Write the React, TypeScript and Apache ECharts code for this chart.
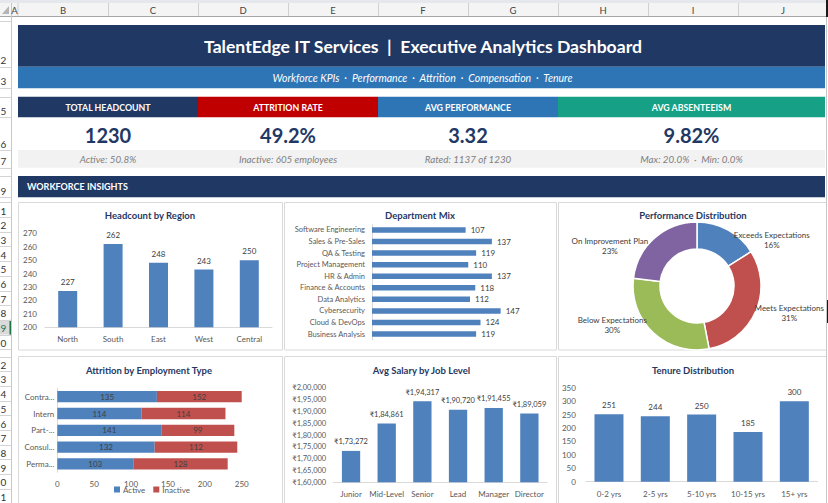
import React, { useEffect, useRef } from 'react';
import * as echarts from 'echarts';

const FONT = "Lato, 'Noto Sans', 'DejaVu Sans', sans-serif";
const NAVY = '#1F3864';
const BAR_BLUE = '#4F81BD';
const BAR_RED = '#C0504D';
const LABEL_GREY = '#404040';
const AXIS_GREY = '#595959';

// Header texts
const dashboardTitle = 'TalentEdge IT Services  |  Executive Analytics Dashboard';
const dashboardSubtitle = 'Workforce KPIs  ·  Performance  ·  Attrition  ·  Compensation  ·  Tenure';
const sectionTitle = 'WORKFORCE INSIGHTS';

// KPI cards
const kpiTitles = ['TOTAL HEADCOUNT', 'ATTRITION RATE', 'AVG PERFORMANCE', 'AVG ABSENTEEISM'];
const kpiValues = ['1230', '49.2%', '3.32', '9.82%'];
const kpiNotes = ['Active: 50.8%', 'Inactive: 605 employees', 'Rated: 1137 of 1230', 'Max: 20.0%  ·  Min: 0.0%'];
const kpiColors = ['#1F3864', '#C00000', '#2E75B6', '#16A085'];

// Headcount by Region
const regions = ['North', 'South', 'East', 'West', 'Central'];
const regionHeadcount = [227, 262, 248, 243, 250];

// Department Mix
const departments = [
  'Software Engineering', 'Sales & Pre-Sales', 'QA & Testing', 'Project Management', 'HR & Admin',
  'Finance & Accounts', 'Data Analytics', 'Cybersecurity', 'Cloud & DevOps', 'Business Analysis',
];
const departmentHeadcount = [107, 137, 119, 110, 137, 118, 112, 147, 124, 119];

// Performance Distribution
const ratingNames = ['Exceeds Expectations', 'Meets Expectations', 'Below Expectations', 'On Improvement Plan'];
const ratingCounts = [182, 352, 341, 262];
const ratingColors = ['#4F81BD', '#C0504D', '#9BBB59', '#8064A2'];

// Attrition by Employment Type
const employmentTypes = ['Contra...', 'Intern', 'Part-...', 'Consul...', 'Perma...'];
const activeByType = [135, 114, 141, 132, 103];
const inactiveByType = [152, 114, 99, 112, 128];

// Avg Salary by Job Level
const jobLevels = ['Junior', 'Mid-Level', 'Senior', 'Lead', 'Manager', 'Director'];
const avgSalary = [173272, 184861, 194317, 190720, 191455, 189059];

// Tenure Distribution
const tenureBands = ['0-2 yrs', '2-5 yrs', '5-10 yrs', '10-15 yrs', '15+ yrs'];
const tenureCounts = [251, 244, 250, 185, 300];

// Spreadsheet chrome
const columnLetters = ['B', 'C', 'D', 'E', 'F', 'G', 'H', 'I', 'J'];

function inr(v: number): string {
  const s = Math.round(v).toString();
  if (s.length <= 3) return '₹' + s;
  const last3 = s.slice(-3);
  let rest = s.slice(0, -3);
  const parts: string[] = [];
  while (rest.length > 2) {
    parts.unshift(rest.slice(-2));
    rest = rest.slice(0, -2);
  }
  if (rest) parts.unshift(rest);
  return '₹' + parts.join(',') + ',' + last3;
}

const PIE_CX = 697;
const PIE_CY = 286;
const PIE_PANEL_RIGHT = 824;

function buildGraphics() {
  const g: any[] = [];
  const rect = (x: number, y: number, w: number, h: number, fill: string, stroke?: string) =>
    g.push({
      type: 'rect', silent: true, z: 0,
      shape: { x, y, width: w, height: h },
      style: { fill, stroke: stroke || null, lineWidth: stroke ? 1 : 0 },
    });
  const line = (x1: number, y1: number, x2: number, y2: number, stroke: string, w = 1) =>
    g.push({ type: 'line', silent: true, z: 1, shape: { x1, y1, x2, y2 }, style: { stroke, lineWidth: w } });
  const text = (x: number, y: number, t: string, o: any = {}) =>
    g.push({
      type: 'text', silent: true, z: 2, x, y,
      style: {
        text: t,
        fill: o.fill || '#fff',
        fontSize: o.size || 10,
        fontWeight: o.weight || 'normal',
        fontStyle: o.style || 'normal',
        fontFamily: o.family || FONT,
        align: o.align || 'center',
        textAlign: o.align || 'center',
        verticalAlign: 'middle',
        textVerticalAlign: 'middle',
      },
    });

  // column header strip
  rect(0, 0, 828, 3, '#E4E7EB');
  rect(0, 3, 826, 13.5, '#F4F4F4');
  line(0, 16.5, 826, 16.5, '#A6A6A6');
  line(11.5, 3, 11.5, 503, '#C8C8C8');
  line(18, 3, 18, 16, '#D0D0D0');
  g.push({
    type: 'polygon', silent: true, z: 1,
    shape: { points: [[9, 6], [9, 14], [2, 14]] },
    style: { fill: '#B5B5B5' },
  });
  text(14.5, 10, 'A', { fill: '#444', size: 9.5 });
  columnLetters.forEach((c, i) => {
    const left = 18 + i * 90;
    text(left + 45, 10, c, { fill: '#444', size: 9.5 });
    line(left + 90.5, 3, left + 90.5, 16, '#D0D0D0');
  });
  rect(826, 0, 2, 17, '#1A1A1A');
  line(826.5, 17, 826.5, 503, '#C8C8C8');
  rect(826, 300, 2, 23, '#1A1A1A');

  // row header (the narrow header only shows each row number's last digit)
  const rows: { n: number; top: number; bottom: number }[] = [
    { n: 1, top: 16.5, bottom: 20.5 },
    { n: 2, top: 20.5, bottom: 66.7 },
    { n: 3, top: 66.7, bottom: 87.8 },
    { n: 4, top: 87.8, bottom: 96.7 },
    { n: 5, top: 96.7, bottom: 117.3 },
    { n: 6, top: 117.3, bottom: 150 },
    { n: 7, top: 150, bottom: 167.7 },
    { n: 8, top: 167.7, bottom: 175.8 },
    { n: 9, top: 175.8, bottom: 197.2 },
    { n: 10, top: 197.2, bottom: 202.3 },
  ];
  for (let k = 11; k <= 20; k++) rows.push({ n: k, top: 202.3 + (k - 11) * 14.7, bottom: 202.3 + (k - 10) * 14.7 });
  rows.push({ n: 21, top: 349.3, bottom: 356.5 });
  for (let k = 22; k <= 31; k++) rows.push({ n: k, top: 356.5 + (k - 22) * 14.7, bottom: 356.5 + (k - 21) * 14.7 });
  rows.forEach((r) => {
    const h = r.bottom - r.top;
    const active = r.n === 19;
    if (active) {
      rect(0, r.top, 11, h, '#DADADA');
      rect(9.5, r.top, 2, h, '#217346');
    }
    if (h > 10) {
      text(0.5, r.bottom - 6.5, String(r.n % 10), { fill: active ? '#217346' : '#333', size: 10, align: 'left' });
    }
    line(0, Math.round(r.bottom) + 0.5, 11, Math.round(r.bottom) + 0.5, '#D4D4D4');
  });

  // title bars
  rect(18, 25, 807, 41.7, NAVY);
  text(423, 46.5, dashboardTitle, { size: 17.6, weight: 'bold' });
  rect(18, 66.7, 807, 21.6, '#2E75B6');
  text(422.5, 77.7, dashboardSubtitle, { size: 10.5, style: 'italic' });

  // KPI cards
  const kpiEdges = [18, 198, 378, 558, 825];
  kpiTitles.forEach((t, i) => {
    const x0 = kpiEdges[i];
    const w = kpiEdges[i + 1] - x0;
    const cx = x0 + w / 2;
    rect(x0, 96.7, w, 20.6, kpiColors[i]);
    text(cx, 107.2, t, { size: 8.8, weight: 'bold' });
    text(cx, 134.5, kpiValues[i], { size: 20, weight: 'bold', fill: NAVY });
    rect(x0, 150, w, 17.7, '#F2F2F2');
    text(cx, 158.8, kpiNotes[i], { size: 9.8, style: 'italic', fill: '#808080' });
  });

  // section heading
  rect(18, 176, 807, 21.2, NAVY);
  text(27, 186.8, sectionTitle, { size: 9, weight: 'bold', align: 'left' });

  // chart panels
  const panelX = [[18.5, 264], [284.5, 272], [558.5, 268]];
  panelX.forEach(([x, w]) => {
    rect(x, 202.5, w, 147.5, '#FFFFFF', '#D9D9D9');
    rect(x, 356.5, w, 160, '#FFFFFF', '#D9D9D9');
  });

  // chart titles
  const titleStyle = { size: 9.5, weight: 'bold', fill: NAVY };
  text(150, 215.7, 'Headcount by Region', titleStyle);
  text(420, 215.7, 'Department Mix', titleStyle);
  text(693, 215.7, 'Performance Distribution', titleStyle);
  text(149, 370.7, 'Attrition by Employment Type', titleStyle);
  text(421.5, 370.7, 'Avg Salary by Job Level', titleStyle);
  text(693, 370.7, 'Tenure Distribution', titleStyle);

  return g;
}

const axisText = { color: AXIS_GREY, fontSize: 8, fontFamily: FONT };
const valueLabel = { color: LABEL_GREY, fontSize: 8, fontFamily: FONT };
const baseLine = { show: true, lineStyle: { color: '#D9D9D9', width: 1 } };

function buildOption(): any {
  return {
    animation: false,
    backgroundColor: '#FFFFFF',
    textStyle: { fontFamily: FONT },
    graphic: { elements: buildGraphics() },
    legend: {
      data: ['Active', 'Inactive'],
      left: 114,
      top: 485.5,
      icon: 'rect',
      itemWidth: 6,
      itemHeight: 6,
      itemGap: 8,
      padding: 0,
      textStyle: { color: AXIS_GREY, fontSize: 8, fontFamily: FONT, padding: [0, 0, 0, -2] },
      selectedMode: false,
    },
    grid: [
      { left: 45, top: 233.3, width: 227, height: 94, outerBoundsMode: 'none' },
      { left: 372, top: 224.2, width: 140, height: 115.6, outerBoundsMode: 'none' },
      { left: 57.3, top: 388.3, width: 184.4, height: 84, outerBoundsMode: 'none' },
      { left: 333.2, top: 387.7, width: 214, height: 94.6, outerBoundsMode: 'none' },
      { left: 585.8, top: 387.7, width: 231.7, height: 94, outerBoundsMode: 'none' },
    ],
    xAxis: [
      {
        type: 'category', gridIndex: 0, data: regions,
        axisLine: baseLine, axisTick: { show: false },
        axisLabel: { ...axisText, margin: 8 },
      },
      { type: 'value', gridIndex: 1, min: 0, max: 160, show: false },
      {
        type: 'value', gridIndex: 2, min: 0, max: 250, interval: 50,
        axisLine: { show: false }, axisTick: { show: false }, splitLine: { show: false },
        axisLabel: { ...axisText, margin: 8 },
      },
      {
        type: 'category', gridIndex: 3, data: jobLevels,
        axisLine: baseLine, axisTick: { show: false },
        axisLabel: { ...axisText, margin: 8, interval: 0 },
      },
      {
        type: 'category', gridIndex: 4, data: tenureBands,
        axisLine: baseLine, axisTick: { show: false },
        axisLabel: { ...axisText, margin: 8, interval: 0 },
      },
    ],
    yAxis: [
      {
        type: 'value', gridIndex: 0, min: 200, max: 270, interval: 10,
        axisLine: { show: false }, axisTick: { show: false }, splitLine: { show: false },
        axisLabel: { ...axisText, margin: 8 },
      },
      {
        type: 'category', gridIndex: 1, data: departments, inverse: true,
        axisLine: baseLine, axisTick: { show: false },
        axisLabel: { ...axisText, fontSize: 7.5, margin: 7, interval: 0 },
      },
      {
        type: 'category', gridIndex: 2, data: employmentTypes, inverse: true,
        axisLine: baseLine, axisTick: { show: false },
        axisLabel: { ...axisText, margin: 3, interval: 0 },
      },
      {
        type: 'value', gridIndex: 3, min: 160000, max: 200000, interval: 5000,
        axisLine: { show: false }, axisTick: { show: false }, splitLine: { show: false },
        axisLabel: { ...axisText, fontSize: 7.5, margin: 7, formatter: (v: number) => inr(v) },
      },
      {
        type: 'value', gridIndex: 4, min: 0, max: 350, interval: 50,
        axisLine: { show: false }, axisTick: { show: false }, splitLine: { show: false },
        axisLabel: { ...axisText, margin: 10 },
      },
    ],
    series: [
      {
        name: 'Headcount', type: 'bar', xAxisIndex: 0, yAxisIndex: 0,
        data: regionHeadcount, barWidth: 19,
        itemStyle: { color: BAR_BLUE },
        label: { show: true, position: 'top', distance: 5, ...valueLabel },
      },
      {
        name: 'Employees', type: 'bar', xAxisIndex: 1, yAxisIndex: 1,
        data: departmentHeadcount, barWidth: 5.5,
        itemStyle: { color: BAR_BLUE },
        label: { show: true, position: 'right', distance: 5, ...valueLabel },
      },
      {
        name: 'Rating', type: 'pie',
        center: [PIE_CX, PIE_CY], radius: [37, 64], startAngle: 90,
        percentPrecision: 0,
        avoidLabelOverlap: false,
        itemStyle: { borderColor: '#FFFFFF', borderWidth: 1.5 },
        data: ratingNames.map((n, i) => ({ name: n, value: ratingCounts[i], itemStyle: { color: ratingColors[i] } })),
        label: {
          show: true, position: 'outside', formatter: '{b}\n{d}%',
          color: LABEL_GREY, fontSize: 8, fontFamily: FONT, lineHeight: 10,
        },
        labelLine: { show: false, length: 2, length2: 0 },
        labelLayout: (p: any) => {
          const r = p.labelRect;
          let cx = r.x + r.width / 2;
          let cy = PIE_CY + (r.y + r.height / 2 - PIE_CY) * 0.8;
          // keep the label inside its panel: a label pushed in from the edge also drops a little
          const over = cx + r.width / 2 - PIE_PANEL_RIGHT;
          if (over > 0) {
            cx -= over;
            cy += over * 0.8;
          }
          return { x: cx, y: cy, align: 'center', verticalAlign: 'middle' };
        },
      },
      {
        name: 'Active', type: 'bar', xAxisIndex: 2, yAxisIndex: 2, stack: 'status',
        data: activeByType, barWidth: 11.3,
        itemStyle: { color: BAR_BLUE },
        label: { show: true, position: 'inside', ...valueLabel },
      },
      {
        name: 'Inactive', type: 'bar', xAxisIndex: 2, yAxisIndex: 2, stack: 'status',
        data: inactiveByType, barWidth: 11.3,
        itemStyle: { color: BAR_RED },
        label: { show: true, position: 'inside', ...valueLabel },
      },
      {
        name: 'Avg Salary', type: 'bar', xAxisIndex: 3, yAxisIndex: 3,
        data: avgSalary, barWidth: 18.3,
        itemStyle: { color: BAR_BLUE },
        label: { show: true, position: 'top', distance: 5, ...valueLabel, fontSize: 7.5, formatter: (p: any) => inr(p.value) },
      },
      {
        name: 'Tenure', type: 'bar', xAxisIndex: 4, yAxisIndex: 4,
        data: tenureCounts, barWidth: 29,
        itemStyle: { color: BAR_BLUE },
        label: { show: true, position: 'top', distance: 5, ...valueLabel },
      },
    ],
  };
}

export default function App() {
  const ref = useRef<HTMLDivElement>(null);
  useEffect(() => {
    if (!ref.current) return;
    const chart = echarts.init(ref.current, undefined, { renderer: 'svg' });
    chart.setOption(buildOption());
    return () => chart.dispose();
  }, []);
  return (
    <div
      ref={ref}
      style={{ position: 'fixed', left: 0, top: 0, width: 828, height: 503, background: '#fff' }}
    />
  );
}
